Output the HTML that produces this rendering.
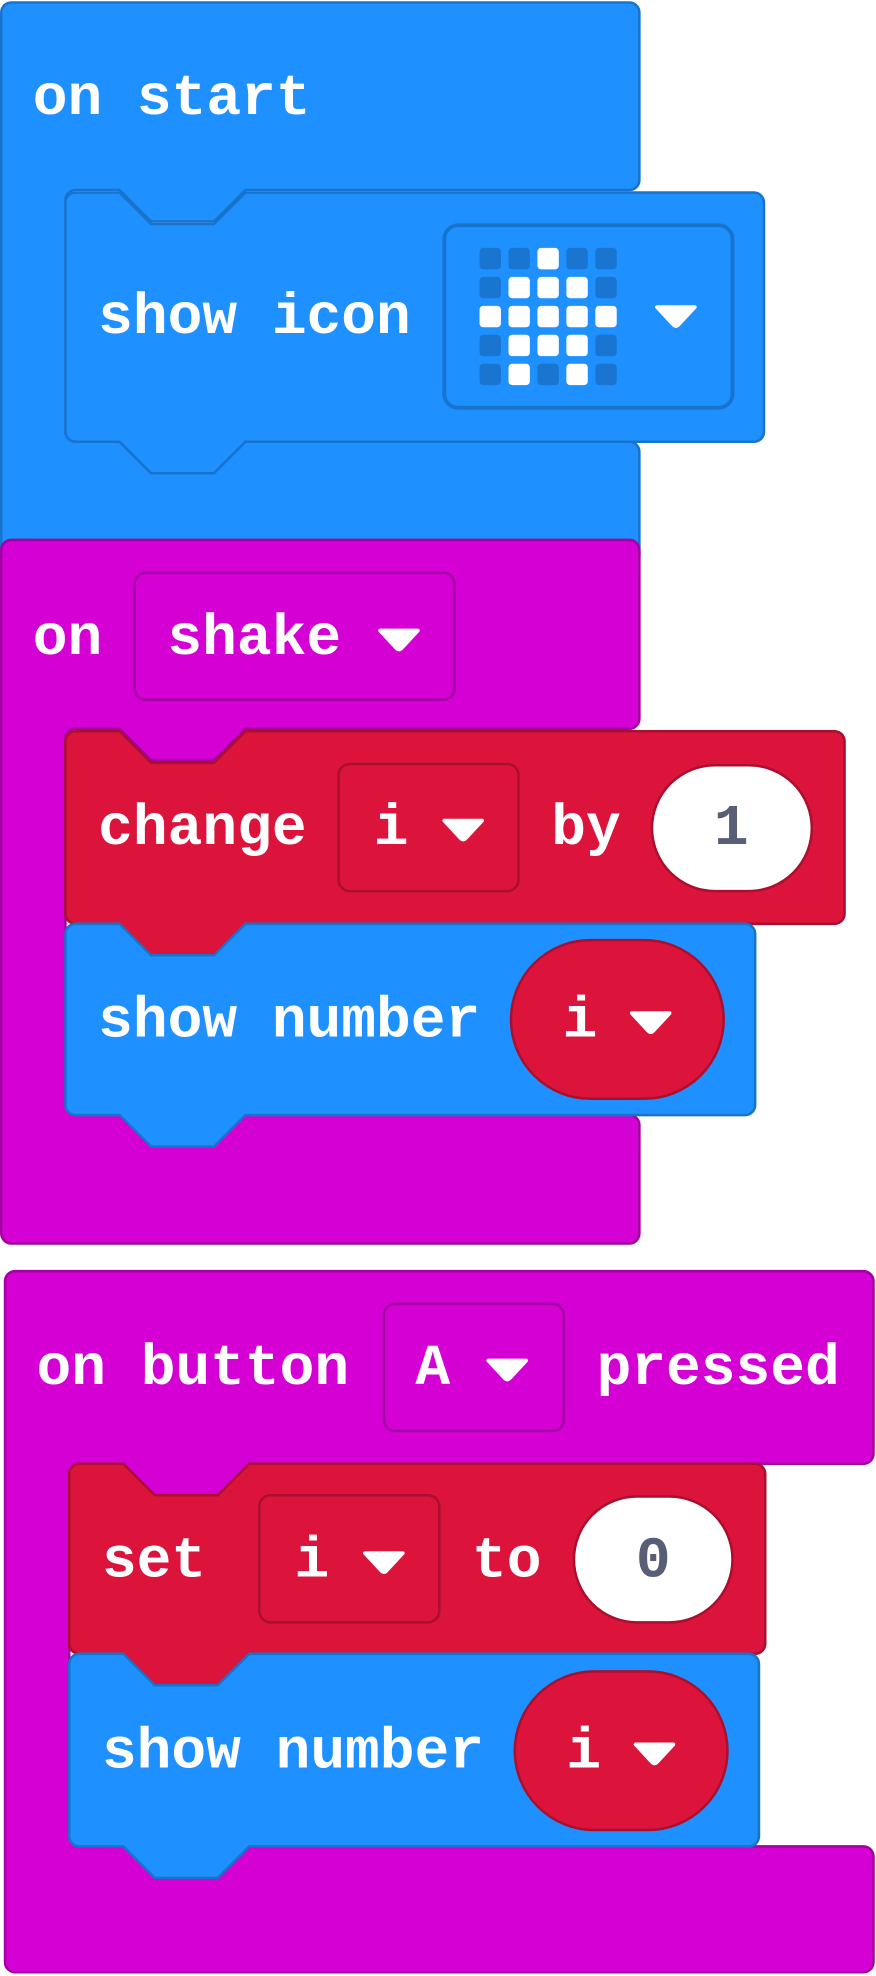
<!DOCTYPE html>
<html><head><meta charset="utf-8"><style>
html,body{margin:0;padding:0;background:#fff;}
svg{display:block}
text{font-family:"Liberation Mono","DejaVu Sans Mono",monospace;font-weight:bold;font-size:46px;fill:#fff;dominant-baseline:central}
</style></head><body>
<svg width="876" height="1976" viewBox="0 0 696 1568" xmlns="http://www.w3.org/2000/svg">
<!-- on start -->
<path d="M1,9 a8,8 0 0 1 8,-8 H500 a8,8 0 0 1 8,8 V142 a8,8 0 0 1 -8,8 H195 l-25,25 h-50 l-25,-25 H60 a8,8 0 0 0 -8,8 V342 a8,8 0 0 0 8,8 H95 l25,25 h50 l25,-25 H500 a8,8 0 0 1 8,8 V440 H1 Z" fill="#1E90FF" stroke="#1873cc" stroke-width="2"/>
<text x="26" y="78">on start</text>
<!-- show icon -->
<path d="M52,160 a8,8 0 0 1 8,-8 H95 l25,25 h50 l25,-25 H599 a8,8 0 0 1 8,8 V342 a8,8 0 0 1 -8,8 H195 l-25,25 h-50 l-25,-25 H60 a8,8 0 0 1 -8,-8 Z" fill="#1E90FF" stroke="#1873cc" stroke-width="2"/>
<text x="78" y="252">show icon</text>
<rect x="353" y="178" width="229" height="145" rx="11" fill="#1E90FF" stroke="#1873cc" stroke-width="3"/>
<g fill="#1a75d0">
<rect x="381" y="196" width="17" height="17" rx="3"/><rect x="404" y="196" width="17" height="17" rx="3"/><rect x="450" y="196" width="17" height="17" rx="3"/><rect x="473" y="196" width="17" height="17" rx="3"/>
<rect x="381" y="219" width="17" height="17" rx="3"/><rect x="473" y="219" width="17" height="17" rx="3"/>
<rect x="381" y="265" width="17" height="17" rx="3"/><rect x="473" y="265" width="17" height="17" rx="3"/>
<rect x="381" y="288" width="17" height="17" rx="3"/><rect x="427" y="288" width="17" height="17" rx="3"/><rect x="473" y="288" width="17" height="17" rx="3"/>
</g>
<g fill="#fff">
<rect x="427" y="196" width="17" height="17" rx="3"/>
<rect x="404" y="219" width="17" height="17" rx="3"/><rect x="427" y="219" width="17" height="17" rx="3"/><rect x="450" y="219" width="17" height="17" rx="3"/>
<rect x="381" y="242" width="17" height="17" rx="3"/><rect x="404" y="242" width="17" height="17" rx="3"/><rect x="427" y="242" width="17" height="17" rx="3"/><rect x="450" y="242" width="17" height="17" rx="3"/><rect x="473" y="242" width="17" height="17" rx="3"/>
<rect x="404" y="265" width="17" height="17" rx="3"/><rect x="427" y="265" width="17" height="17" rx="3"/><rect x="450" y="265" width="17" height="17" rx="3"/>
<rect x="404" y="288" width="17" height="17" rx="3"/><rect x="450" y="288" width="17" height="17" rx="3"/>
</g>
<path d="M522,243 h30 l-13,14 q-2,2 -4,0 Z" fill="#fff" stroke="#fff" stroke-width="3" stroke-linejoin="round"/>

<!-- on shake -->
<path d="M1,436 a8,8 0 0 1 8,-8 H500 a8,8 0 0 1 8,8 V570 a8,8 0 0 1 -8,8 H195 l-25,25 h-50 l-25,-25 H60 a8,8 0 0 0 -8,8 V877 a8,8 0 0 0 8,8 H95 l25,25 h50 l25,-25 H500 a8,8 0 0 1 8,8 V979 a8,8 0 0 1 -8,8 H9 a8,8 0 0 1 -8,-8 Z" fill="#D400D4" stroke="#a300a3" stroke-width="2"/>
<text x="26" y="507">on</text>
<rect x="107" y="454" width="254" height="101" rx="9" fill="#D400D4" stroke="#a300a3" stroke-width="2"/>
<text x="133" y="507">shake</text>
<path d="M302,500 h30 l-13,14 q-2,2 -4,0 Z" fill="#fff" stroke="#fff" stroke-width="3" stroke-linejoin="round"/>
<!-- change -->
<path d="M52,588 a8,8 0 0 1 8,-8 H95 l25,25 h50 l25,-25 H663 a8,8 0 0 1 8,8 V725 a8,8 0 0 1 -8,8 H195 l-25,25 h-50 l-25,-25 H60 a8,8 0 0 1 -8,-8 Z" fill="#DC143C" stroke="#aa0f2e" stroke-width="2"/>
<text x="78" y="658">change</text>
<rect x="269" y="606" width="143" height="101" rx="9" fill="#DC143C" stroke="#aa0f2e" stroke-width="2"/>
<text x="297" y="658">i</text>
<path d="M353,651 h30 l-13,14 q-2,2 -4,0 Z" fill="#fff" stroke="#fff" stroke-width="3" stroke-linejoin="round"/>
<text x="438" y="658">by</text>
<rect x="518" y="607" width="127" height="100" rx="50" fill="#fff" stroke="#aa0f2e" stroke-width="2"/>
<text x="581" y="658" text-anchor="middle" style="fill:#575E75">1</text>
<!-- show number -->
<path d="M52,741 a8,8 0 0 1 8,-8 H95 l25,25 h50 l25,-25 H592 a8,8 0 0 1 8,8 V877 a8,8 0 0 1 -8,8 H195 l-25,25 h-50 l-25,-25 H60 a8,8 0 0 1 -8,-8 Z" fill="#1E90FF" stroke="#1873cc" stroke-width="2"/>
<text x="78" y="811">show number</text>
<rect x="406" y="746" width="169" height="126" rx="63" fill="#DC143C" stroke="#aa0f2e" stroke-width="2"/>
<text x="447" y="811">i</text>
<path d="M502,804 h30 l-13,14 q-2,2 -4,0 Z" fill="#fff" stroke="#fff" stroke-width="3" stroke-linejoin="round"/>

<!-- on button A pressed -->
<path d="M4,1017 a8,8 0 0 1 8,-8 H686 a8,8 0 0 1 8,8 V1154 a8,8 0 0 1 -8,8 H198 l-25,25 h-50 l-25,-25 H63 a8,8 0 0 0 -8,8 V1458 a8,8 0 0 0 8,8 H98 l25,25 h50 l25,-25 H686 a8,8 0 0 1 8,8 V1558 a8,8 0 0 1 -8,8 H12 a8,8 0 0 1 -8,-8 Z" fill="#D400D4" stroke="#a300a3" stroke-width="2"/>
<text x="29" y="1087">on button</text>
<rect x="305" y="1035" width="143" height="101" rx="9" fill="#D400D4" stroke="#a300a3" stroke-width="2"/>
<text x="330" y="1087">A</text>
<path d="M388,1080 h30 l-13,14 q-2,2 -4,0 Z" fill="#fff" stroke="#fff" stroke-width="3" stroke-linejoin="round"/>
<text x="474" y="1087">pressed</text>
<!-- set -->
<path d="M55,1170 a8,8 0 0 1 8,-8 H98 l25,25 h50 l25,-25 H600 a8,8 0 0 1 8,8 V1305 a8,8 0 0 1 -8,8 H198 l-25,25 h-50 l-25,-25 H63 a8,8 0 0 1 -8,-8 Z" fill="#DC143C" stroke="#aa0f2e" stroke-width="2"/>
<text x="81" y="1240">set</text>
<rect x="206" y="1187" width="143" height="101" rx="9" fill="#DC143C" stroke="#aa0f2e" stroke-width="2"/>
<text x="234" y="1240">i</text>
<path d="M290,1233 h30 l-13,14 q-2,2 -4,0 Z" fill="#fff" stroke="#fff" stroke-width="3" stroke-linejoin="round"/>
<text x="375" y="1240">to</text>
<rect x="456" y="1188" width="126" height="100" rx="50" fill="#fff" stroke="#aa0f2e" stroke-width="2"/>
<text x="519" y="1240" text-anchor="middle" style="fill:#575E75">0</text>
<!-- show number 2 -->
<path d="M55,1321 a8,8 0 0 1 8,-8 H98 l25,25 h50 l25,-25 H595 a8,8 0 0 1 8,8 V1458 a8,8 0 0 1 -8,8 H198 l-25,25 h-50 l-25,-25 H63 a8,8 0 0 1 -8,-8 Z" fill="#1E90FF" stroke="#1873cc" stroke-width="2"/>
<text x="81" y="1392">show number</text>
<rect x="409" y="1327" width="169" height="126" rx="63" fill="#DC143C" stroke="#aa0f2e" stroke-width="2"/>
<text x="450" y="1392">i</text>
<path d="M505,1385 h30 l-13,14 q-2,2 -4,0 Z" fill="#fff" stroke="#fff" stroke-width="3" stroke-linejoin="round"/>
</svg>
</body></html>
